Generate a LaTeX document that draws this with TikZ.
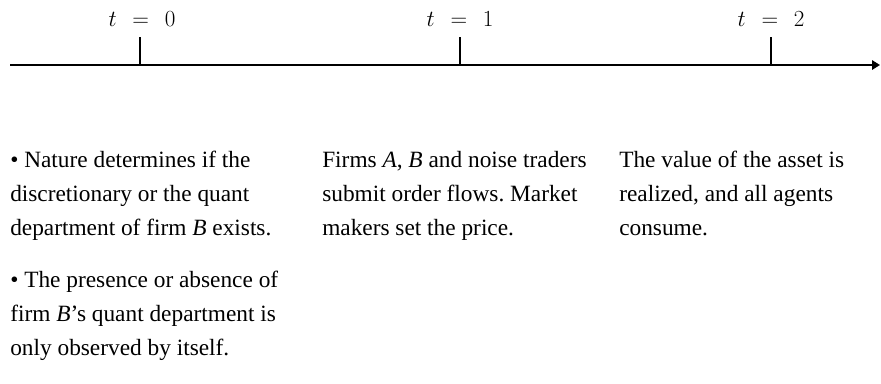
\documentclass[tikz,border=0pt]{standalone}
\usepackage{fontspec}
\setmainfont{Liberation Serif}
\usetikzlibrary{arrows.meta, positioning}
\frenchspacing

\begin{document}
\begin{tikzpicture}[
	x=0.75pt, y=-0.75pt,
	>={Triangle[length=6pt, width=7pt]},
	timeline/.style={line width=1.5pt, ->},
	tick/.style={line width=1.3pt},
	time label/.style={font=\fontsize{17.5}{20}\selectfont, anchor=base, inner sep=0pt},
	event text/.style={font=\fontsize{17.5}{25.5}\selectfont, align=left, anchor=north west, inner sep=0pt}
	]
	\useasboundingbox (0,0) rectangle (881,383);

	% =====================================================
	% TIME AXIS
	% =====================================================
	\coordinate (Start) at (10,65);
	\coordinate (End) at (880,65);
	\coordinate (T0) at (140,65);
	\coordinate (T1) at (460,65);
	\coordinate (T2) at (771,65);
	\coordinate (T0top) at (140,37);
	\coordinate (T1top) at (460,37);
	\coordinate (T2top) at (771,37);

	\draw[timeline] (Start) -- (End);
	\draw[tick] (T0) -- (T0top);
	\draw[tick] (T1) -- (T1top);
	\draw[tick] (T2) -- (T2top);

	\node[time label] (LabelT0) at (142,26) {$t\hspace{0.4em}=\hspace{0.4em}0$};
	\node[time label] (LabelT1) at (460,26) {$t\hspace{0.4em}=\hspace{0.4em}1$};
	\node[time label] (LabelT2) at (771,26) {$t\hspace{0.4em}=\hspace{0.4em}2$};

	% =====================================================
	% EVENTS
	% =====================================================
	\node[event text] (Nature) at (10,151) {\textbullet{} Nature determines if the\\
		discretionary or the quant\\
		department of firm \textit{B} exists.};
	\node[event text] (Presence) at (10,271) {\textbullet{} The presence or absence of\\
		firm \textit{B}’s quant department is\\
		only observed by itself.};
	\node[event text] (Orders) at (322,151) {Firms \textit{A}, \textit{B} and noise traders\\
		submit order flows. Market\\
		makers set the price.};
	\node[event text] (Payoff) at (619,151) {The value of the asset is\\
		realized, and all agents\\
		consume.};

\end{tikzpicture}
\end{document}
